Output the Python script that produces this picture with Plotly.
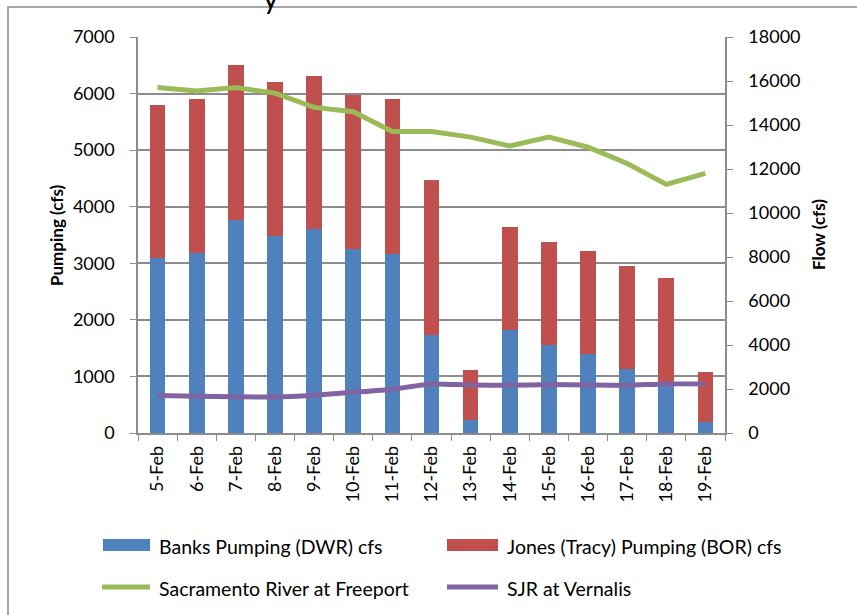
import plotly.graph_objects as go

# Daily values, 5-19 February
dates = ["5-Feb", "6-Feb", "7-Feb", "8-Feb", "9-Feb", "10-Feb", "11-Feb", "12-Feb",
         "13-Feb", "14-Feb", "15-Feb", "16-Feb", "17-Feb", "18-Feb", "19-Feb"]
banks_total_cfs = [3100, 3180, 3760, 3490, 3600, 3250, 3170, 1730,
                   230, 1820, 1550, 1390, 1130, 900, 190]
pumping_total_cfs = [5800, 5910, 6500, 6210, 6310, 5970, 5900, 4470,
                     1110, 3640, 3370, 3210, 2960, 2740, 1070]
jones_cfs = [t - b for t, b in zip(pumping_total_cfs, banks_total_cfs)]
sacramento_freeport_cfs = [15700, 15550, 15700, 15450, 14800, 14600, 13700, 13700,
                           13450, 13050, 13450, 12990, 12250, 11300, 11800]
sjr_vernalis_cfs = [1700, 1670, 1650, 1640, 1720, 1850, 1990, 2230,
                    2180, 2170, 2200, 2180, 2170, 2230, 2230]

series_names = ["Banks Pumping (DWR) cfs", "Jones (Tracy) Pumping (BOR) cfs",
                "Sacramento River at Freeport", "SJR at Vernalis"]
colors = ["#4F81BD", "#C0504D", "#9BBB59", "#8064A2"]

W, H = 857, 615
L, R, T, B = 138, 725, 37, 433
FONT = "Lato"
GRID = "#8c8c8c"


def px(x):
    return (x - L) / (R - L)


def py(y):
    return (B - y) / (B - T)


fig = go.Figure()
fig.add_trace(go.Bar(x=dates, y=banks_total_cfs, name=series_names[0],
                     marker=dict(color=colors[0], line=dict(width=0))))
fig.add_trace(go.Bar(x=dates, y=jones_cfs, name=series_names[1],
                     marker=dict(color=colors[1], line=dict(width=0))))
fig.add_trace(go.Scatter(x=dates, y=sacramento_freeport_cfs, name=series_names[2],
                         mode="lines", yaxis="y2",
                         line=dict(color=colors[2], width=5)))
fig.add_trace(go.Scatter(x=dates, y=sjr_vernalis_cfs, name=series_names[3],
                         mode="lines", yaxis="y2",
                         line=dict(color=colors[3], width=5, shape="spline", smoothing=0.6)))

shapes = [
    # outer chart frame
    dict(type="rect", xref="paper", yref="paper",
         x0=px(8), x1=px(900), y0=py(700), y1=py(7),
         line=dict(color="#8a8a8a", width=1.5), fillcolor="rgba(0,0,0,0)", layer="below"),
]
annotations = [
    dict(text="<b>Pumping (cfs)</b>", xref="paper", yref="paper", x=px(56), y=py(235),
         xanchor="center", yanchor="middle",
         textangle=-90, showarrow=False, font=dict(family=FONT, size=17, color="#000")),
    dict(text="<b>Flow (cfs)</b>", xref="paper", yref="paper", x=px(818), y=py(235),
         xanchor="center", yanchor="middle",
         textangle=-90, showarrow=False, font=dict(family=FONT, size=17, color="#000")),
    # lower part of the chart title, which sits above the frame
    dict(text="y", xref="paper", yref="paper", x=px(271), y=py(17),
         xanchor="center", yanchor="bottom",
         showarrow=False, font=dict(family=FONT, size=30, color="#000")),
]

# legend: swatches and labels in two columns
legend_items = [
    (0, "bar", 103, 150, 545),
    (1, "bar", 447, 498, 545),
    (2, "line", 102, 150, 587),
    (3, "line", 447, 498, 587),
]
for idx, kind, x0, x1, yc in legend_items:
    if kind == "bar":
        shapes.append(dict(type="rect", xref="paper", yref="paper",
                           x0=px(x0), x1=px(x1), y0=py(yc + 6), y1=py(yc - 6),
                           fillcolor=colors[idx], line=dict(width=0)))
    else:
        shapes.append(dict(type="line", xref="paper", yref="paper",
                           x0=px(x0), x1=px(x1), y0=py(yc), y1=py(yc),
                           line=dict(color=colors[idx], width=5)))
    annotations.append(dict(text=series_names[idx], xref="paper", yref="paper",
                            x=px(x1 + 7), y=py(yc + 1), xanchor="left", yanchor="middle",
                            showarrow=False,
                            font=dict(family=FONT, size=19.5, color="#000")))

fig.update_layout(
    width=W, height=H,
    margin=dict(l=L, r=W - R, t=T, b=H - B),
    paper_bgcolor="white", plot_bgcolor="white",
    barmode="stack", bargap=0.6,
    showlegend=False,
    font=dict(family=FONT, size=18, color="#000"),
    xaxis=dict(type="category", tickangle=-90, tickson="boundaries",
               ticks="outside", ticklen=6, tickcolor=GRID, showline=True,
               linecolor=GRID, linewidth=1.5, showgrid=False, ticklabelstandoff=4,
               tickfont=dict(family=FONT, size=18, color="#000")),
    yaxis=dict(range=[0, 7000], dtick=1000, showgrid=True, gridcolor=GRID, gridwidth=1.5,
               ticks="outside", ticklen=6, tickcolor=GRID, showline=True,
               linecolor=GRID, linewidth=1.5, zeroline=False, ticklabelstandoff=12,
               tickformat="d",
               tickfont=dict(family=FONT, size=18, color="#000")),
    yaxis2=dict(range=[0, 18000], dtick=2000, overlaying="y", side="right",
                showgrid=False, ticks="outside", ticklen=6, tickcolor=GRID,
                showline=True, linecolor=GRID, linewidth=1.5, zeroline=False,
                ticklabelstandoff=12, tickformat="d",
                tickfont=dict(family=FONT, size=18, color="#000")),
    shapes=shapes,
    annotations=annotations,
)

fig.write_html("out.html")
